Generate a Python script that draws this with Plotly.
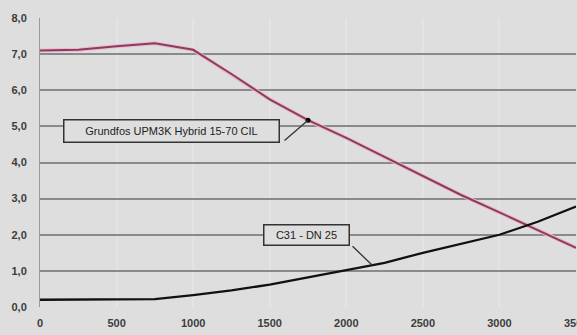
import numpy as np
import plotly.graph_objects as go

# Data
flow = [0, 250, 500, 750, 1000, 1250, 1500, 1750, 2000, 2250, 2500, 2750, 3000, 3250, 3500]
pump_head = [7.10, 7.12, 7.22, 7.30, 7.12, 6.45, 5.75, 5.17, 4.68, 4.15, 3.62, 3.10, 2.62, 2.12, 1.64]
system_head = [0.20, 0.20, 0.20, 0.22, 0.33, 0.46, 0.62, 0.82, 1.02, 1.22, 1.50, 1.74, 2.00, 2.36, 2.78]
pump_label = "Grundfos UPM3K Hybrid 15-70 CIL"
system_label = "C31 - DN 25"
x_ticks = [0, 500, 1000, 1500, 2000, 2500, 3000, 3500]
y_ticks = [0, 1, 2, 3, 4, 5, 6, 7, 8]

# annotation anchor flows
pump_pt_x = 1750
sys_pt_x = 2170
pump_pt_y = float(np.interp(pump_pt_x, flow, pump_head))
sys_pt_y = float(np.interp(sys_pt_x, flow, system_head))

BG = "#dedede"
fig = go.Figure()
fig.add_trace(go.Scatter(x=flow, y=pump_head, mode="lines",
                         line=dict(color="#e6bccd", width=4), hoverinfo="skip", showlegend=False))
fig.add_trace(go.Scatter(x=flow, y=pump_head, mode="lines", name=pump_label,
                         line=dict(color="#8f3a5e", width=2), showlegend=False))
fig.add_trace(go.Scatter(x=flow, y=system_head, mode="lines", name=system_label,
                         line=dict(color="#111111", width=2.3), showlegend=False))
fig.add_trace(go.Scatter(x=[pump_pt_x], y=[pump_pt_y], mode="markers",
                         marker=dict(color="#000000", size=5), showlegend=False, hoverinfo="skip"))

ann_font = dict(family="Liberation Sans, Arial, sans-serif", size=11, color="#222222")
tick_font = dict(family="Liberation Sans, Arial, sans-serif", size=11, color="#3c3c3c", weight="bold")
# leader lines (arrow-only annotations)
fig.add_annotation(x=pump_pt_x, y=pump_pt_y, ax=1587, ay=4.57, axref="x", ayref="y",
                   xref="x", yref="y", text="", showarrow=True, arrowhead=0,
                   arrowwidth=1.3, arrowcolor="#333333")
fig.add_annotation(x=sys_pt_x, y=sys_pt_y, ax=2031, ay=1.72, axref="x", ayref="y",
                   xref="x", yref="y", text="", showarrow=True, arrowhead=0,
                   arrowwidth=1.3, arrowcolor="#333333")
# label boxes
fig.add_annotation(x=858, y=4.86, xref="x", yref="y", text=pump_label, showarrow=False,
                   font=ann_font, bgcolor=BG, bordercolor="#333333", borderwidth=1.5,
                   width=212, height=19)
fig.add_annotation(x=1743, y=2.0, xref="x", yref="y", text=system_label, showarrow=False,
                   font=ann_font, bgcolor=BG, bordercolor="#333333", borderwidth=1.5,
                   width=82, height=17)
# last x tick label, cut by the window edge as in the original
fig.add_annotation(x=x_ticks[-1], y=0, xref="x", yref="paper", text=str(x_ticks[-1]),
                   showarrow=False, font=tick_font, xanchor="center", yanchor="top", yshift=-8)

fig.update_layout(
    width=577, height=335,
    margin=dict(l=40, r=1, t=18, b=28),
    paper_bgcolor=BG, plot_bgcolor=BG,
    separators=",.",
    xaxis=dict(range=[0, 3500], tickvals=x_ticks[:-1], tickformat="d",
               showgrid=True, gridcolor="#e4e4e4", gridwidth=2,
               zeroline=False, showline=False, tickfont=tick_font,
               ticks="", ticklabelstandoff=8),
    yaxis=dict(range=[0, 8], tickvals=y_ticks, tickformat=".1f",
               showgrid=True, gridcolor="#8a8a8a", gridwidth=2,
               zeroline=False, showline=True, linecolor="#9a9a9a", linewidth=1,
               tickfont=tick_font, ticks="", ticklabelstandoff=10),
)
fig.write_html("out.html", config={"displayModeBar": False},
               post_script="document.body.style.margin='0';")
